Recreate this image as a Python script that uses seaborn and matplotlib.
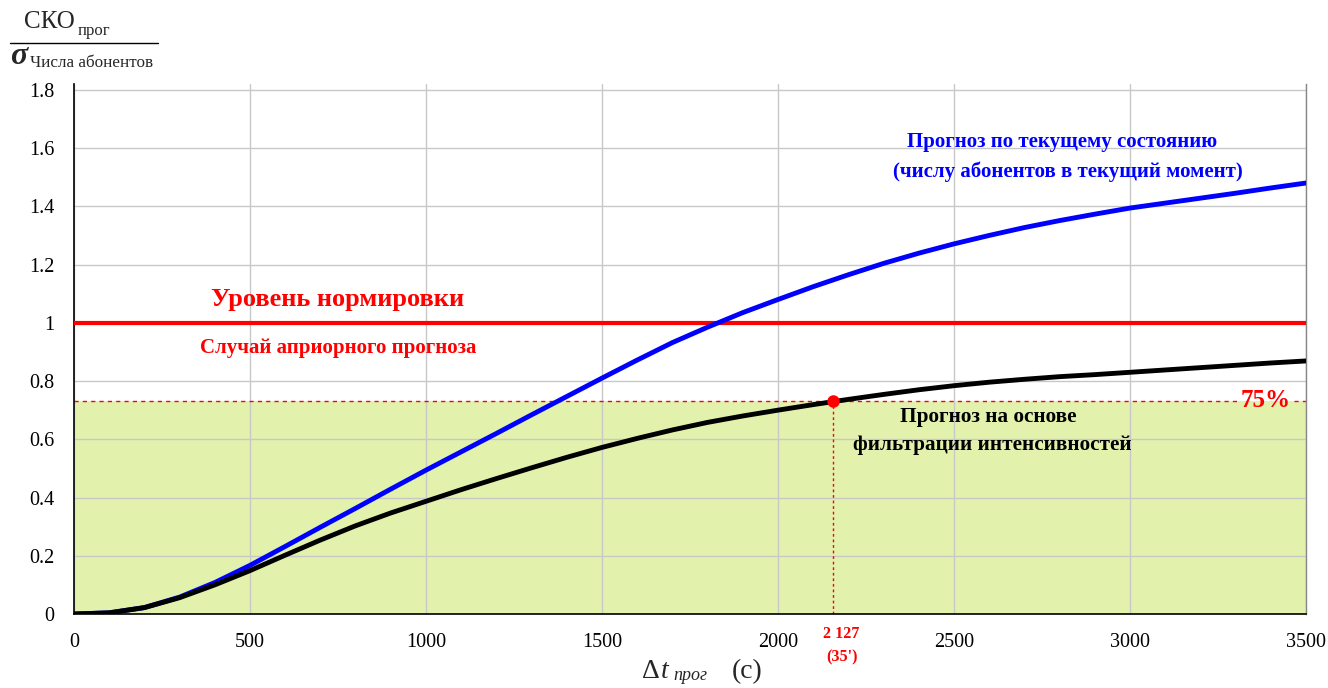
import numpy as np
import pandas as pd
import matplotlib
matplotlib.use("Agg")
import matplotlib.pyplot as plt
import seaborn as sns
from matplotlib.ticker import FuncFormatter

# ---- data ----
t_sec = [0, 100, 200, 300, 400, 500, 600, 700, 800, 900, 1000, 1100, 1200, 1300,
         1400, 1500, 1600, 1700, 1800, 1900, 2000, 2100, 2200, 2300, 2400, 2500,
         2600, 2700, 2800, 2900, 3000, 3100, 3200, 3300, 3400, 3500]
current_state = [0.0, 0.004, 0.022, 0.058, 0.108, 0.167, 0.232, 0.298, 0.363,
                 0.429, 0.494, 0.557, 0.620, 0.684, 0.747, 0.810, 0.872, 0.932,
                 0.985, 1.035, 1.080, 1.124, 1.165, 1.204, 1.239, 1.271, 1.300,
                 1.327, 1.351, 1.373, 1.394, 1.411, 1.428, 1.445, 1.463, 1.480]
filtered = [0.0, 0.004, 0.022, 0.056, 0.100, 0.149, 0.202, 0.254, 0.303, 0.347,
            0.387, 0.427, 0.465, 0.502, 0.538, 0.572, 0.603, 0.632, 0.658, 0.680,
            0.700, 0.719, 0.737, 0.754, 0.770, 0.784, 0.796, 0.806, 0.815, 0.822,
            0.830, 0.838, 0.846, 0.854, 0.862, 0.869]
norm_level = 1.0
threshold = 0.73
marker_x = 2155
marker_label = "2 127"
marker_minutes = "(35')"
x_ticks = [0, 500, 1000, 1500, 2000, 2500, 3000, 3500]
y_ticks = [0, 0.2, 0.4, 0.6, 0.8, 1.0, 1.2, 1.4, 1.6, 1.8]

df = pd.DataFrame({"t": t_sec, "cur": current_state, "filt": filtered})

sns.set_style("whitegrid")
plt.rcParams["font.family"] = ["Liberation Serif", "DejaVu Serif"]

fig = plt.figure(figsize=(13.28, 6.88), dpi=100)
ax = fig.add_axes([74/1328, 1-614/688, (1306-74)/1328, (614-84)/688])

ax.set_xlim(0, 3500)
ax.set_ylim(0, 1.82)

# green zone
ax.axhspan(0, threshold, color="#e2f2ad", zorder=0.5, lw=0)
ax.axhline(threshold, xmin=0, xmax=0.944, color="red", lw=1, ls=(0, (3, 3)), zorder=2)
ax.axhline(threshold, xmin=0.99, xmax=1, color="red", lw=1, ls=(0, (3, 3)), zorder=2)
ax.plot([marker_x, marker_x], [0, threshold], color="red", lw=1,
        ls=(0, (2, 2)), zorder=2)

ax.axhline(norm_level, color="#ff0000", lw=3, zorder=3)

sns.lineplot(data=df, x="t", y="cur", ax=ax, color="#0000ff", lw=3.5, zorder=4)
sns.lineplot(data=df, x="t", y="filt", ax=ax, color="black", lw=3.5, zorder=4)
ax.plot([marker_x], [threshold], "o", color="red", ms=8, zorder=5)

ax.set_xticks(x_ticks)
ax.set_yticks(y_ticks)
ax.yaxis.set_major_formatter(FuncFormatter(lambda v, p: f"{v:g}"))
ax.tick_params(axis="both", labelsize=14.5, colors="black", length=5, width=1,
               direction="out")
ax.tick_params(axis="y", pad=9)
ax.tick_params(axis="x", pad=9)
ax.set_xlabel("")
ax.set_ylabel("")
ax.grid(True, color="#c8c8c8", lw=1)
ax.set_axisbelow(True)
for s in ["left", "bottom"]:
    ax.spines[s].set_color("black")
    ax.spines[s].set_linewidth(1.2)
ax.spines["top"].set_visible(False)
ax.spines["right"].set_color("#888888")
ax.spines["right"].set_linewidth(1)

# annotations
ax.text(750, 1.08, "Уровень нормировки", color="red", fontsize=19,
        fontweight="bold", ha="center", va="center")
ax.text(750, 0.914, "Случай априорного прогноза", color="red", fontsize=15,
        fontweight="bold", ha="center", va="center")
ax.text(2807, 1.62, "Прогноз по текущему состоянию", color="#0000ff",
        fontsize=15, fontweight="bold", ha="center", va="center")
ax.text(2824, 1.52, "(числу абонентов в текущий момент)", color="#0000ff",
        fontsize=15, fontweight="bold", ha="center", va="center")
ax.text(2596, 0.675, "Прогноз на основе", color="black", fontsize=15.3,
        fontweight="bold", ha="center", va="center")
ax.text(2608, 0.582, "фильтрации интенсивностей", color="black", fontsize=15.3,
        fontweight="bold", ha="center", va="center")
ax.text(3386, 0.733, "75%", color="red", fontsize=18, fontweight="bold",
        ha="center", va="center")

# marker label below axis
fig.text(841/1328, 1-634/688, marker_label, color="red", fontsize=11.6,
         fontweight="bold", ha="center", va="center")
fig.text(842/1328, 1-657/688, marker_minutes, color="red", fontsize=11.6,
         fontweight="bold", ha="center", va="center")

# x label
fig.text(651/1328, 1-672/688, "Δ", fontsize=20, ha="center", va="center")
fig.text(665/1328, 1-672/688, "t", fontsize=20, style="italic", ha="center", va="center")
fig.text(690/1328, 1-675/688, "прог", fontsize=13, style="italic", ha="center", va="center")
fig.text(747/1328, 1-672/688, "(с)", fontsize=20, ha="center", va="center")

# y label (fraction)
fig.text(49/1328, 1-22/688, "СКО", fontsize=18, ha="center", va="center")
fig.text(94/1328, 1-31/688, "прог", fontsize=12, ha="center", va="center")
fig.add_artist(plt.Line2D([10/1328, 158/1328], [1-43/688, 1-43/688],
                          color="black", lw=1, transform=fig.transFigure))
fig.text(19/1328, 1-57/688, "σ", fontsize=23, fontweight="bold", style="italic",
         ha="center", va="center")
fig.text(92/1328, 1-63/688, "Числа абонентов", fontsize=12.3, ha="center",
         va="center")

fig.savefig("out.png", dpi=100, facecolor="white")
